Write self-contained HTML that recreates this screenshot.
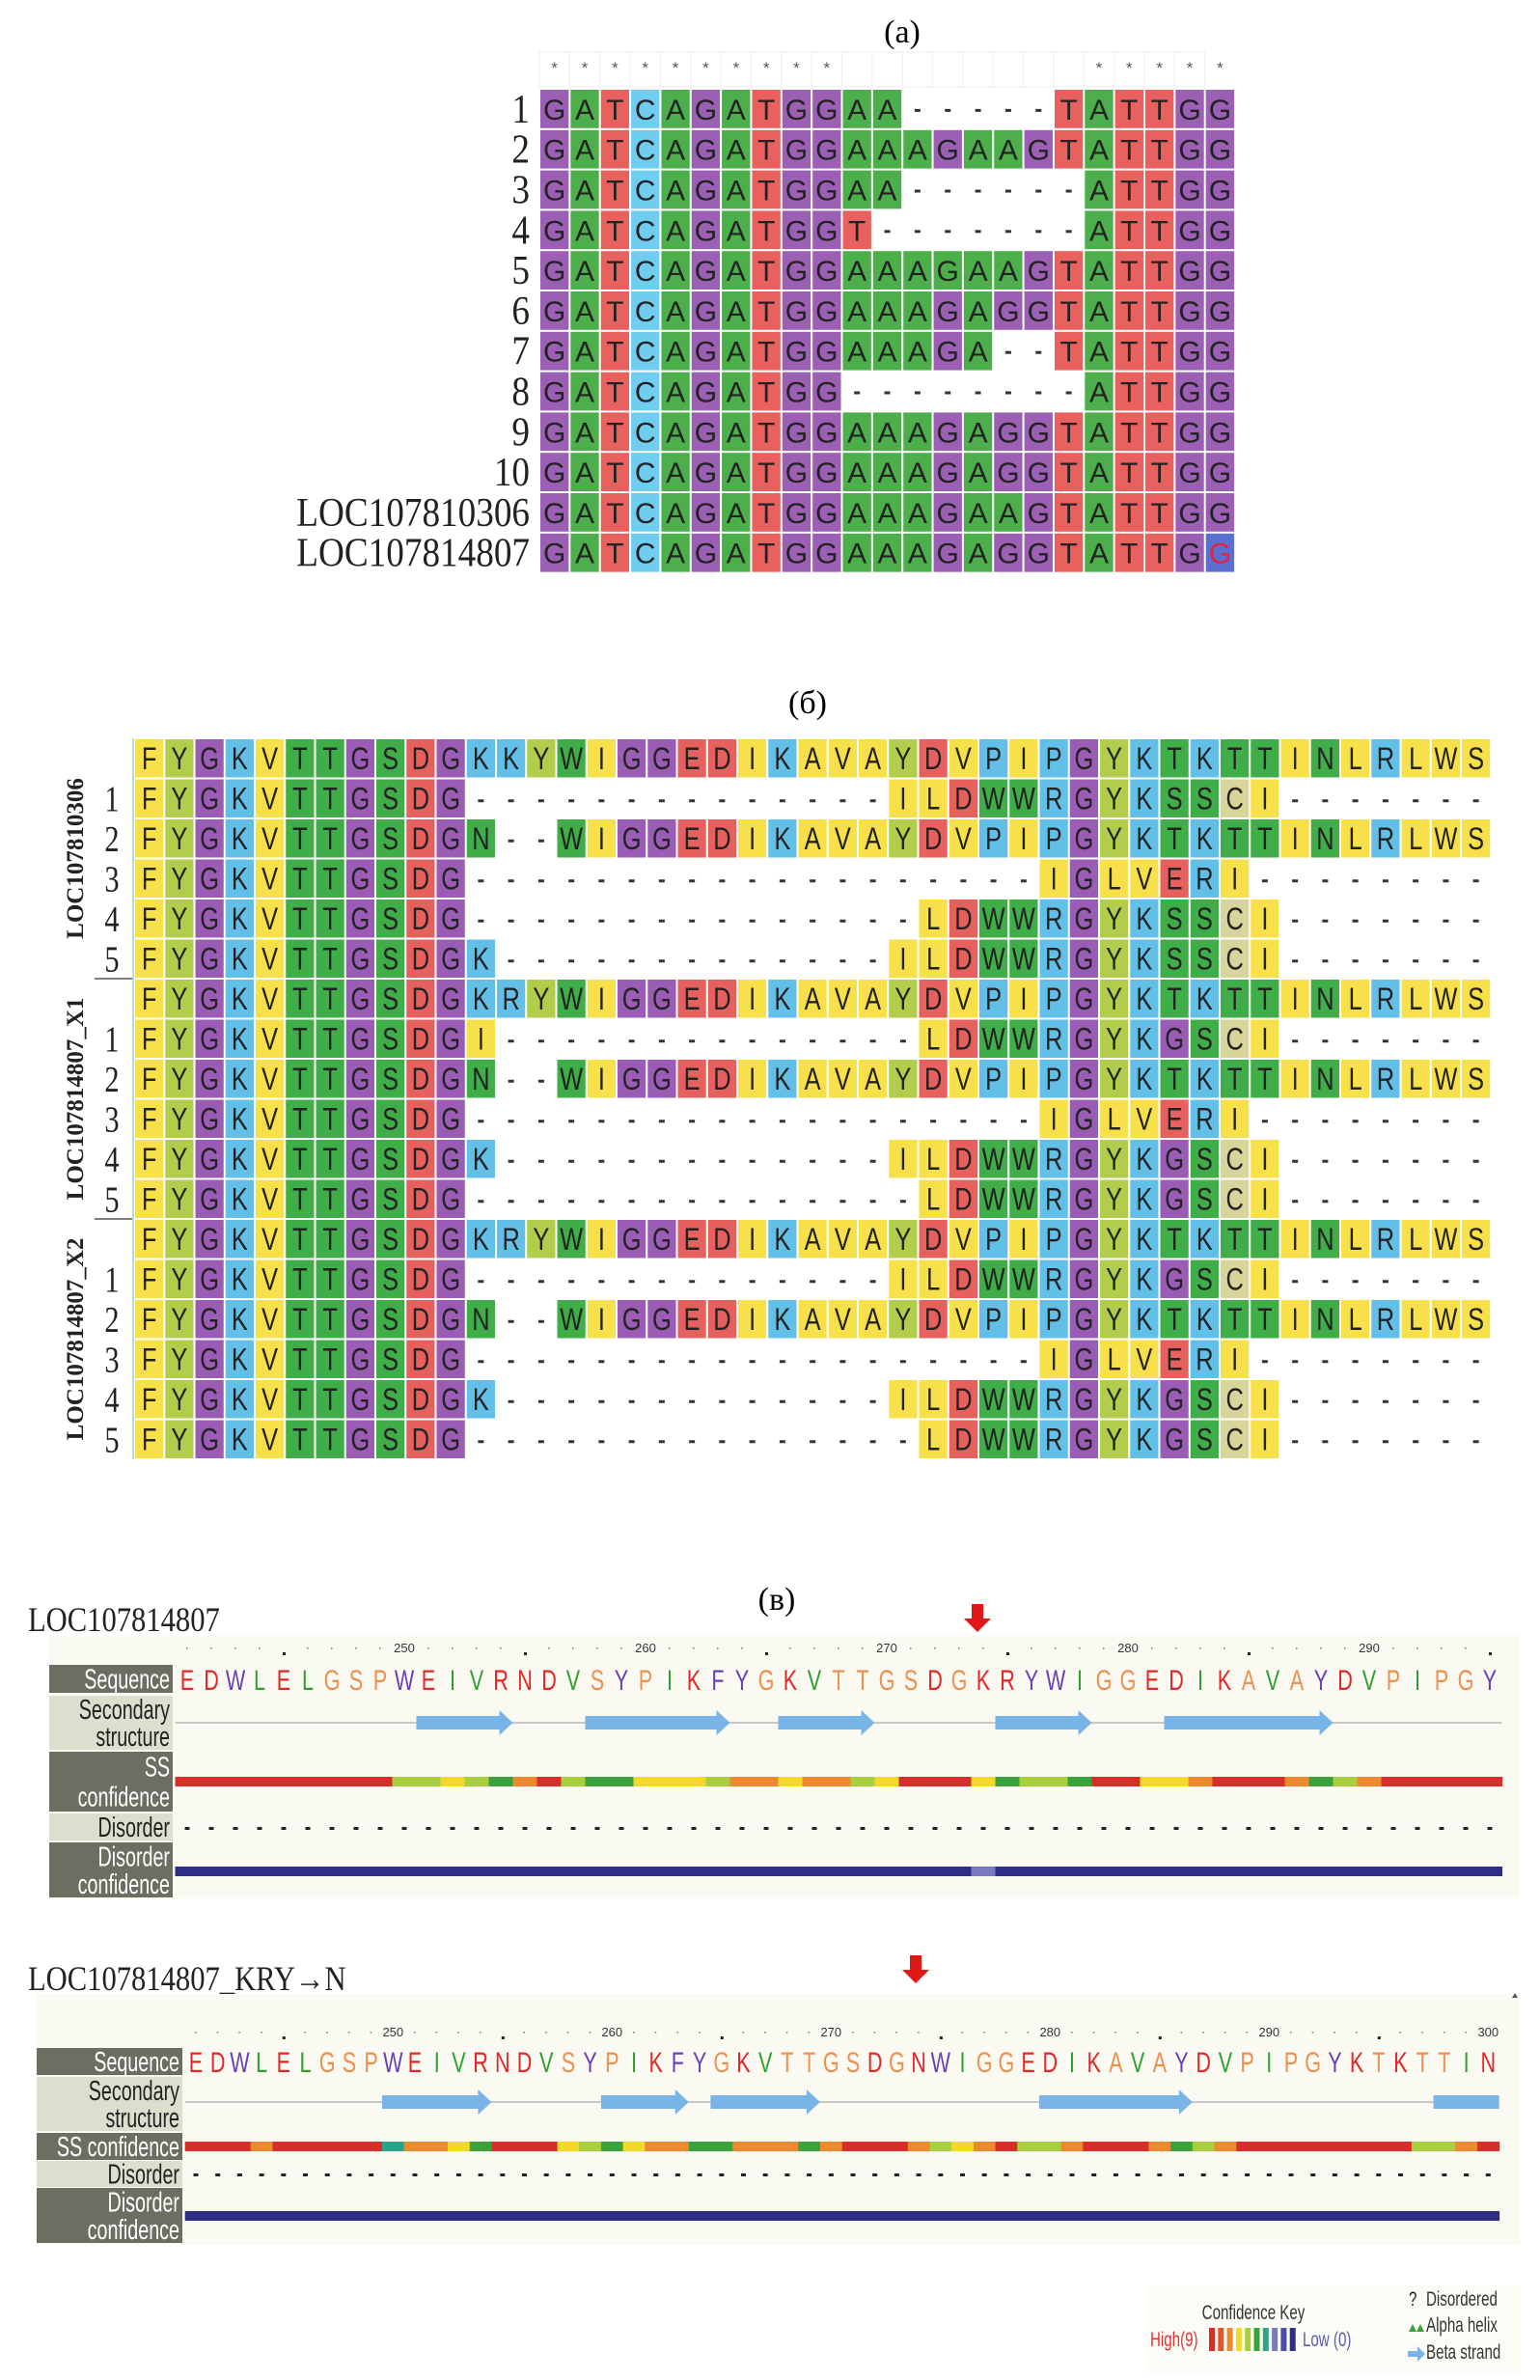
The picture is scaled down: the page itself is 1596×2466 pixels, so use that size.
<!DOCTYPE html>
<html><head><meta charset="utf-8">
<style>
html,body{margin:0;padding:0;background:#fff;}
body{width:1596px;height:2466px;position:relative;overflow:hidden;}
svg{position:absolute;left:0;top:0;}
</style></head>
<body>
<svg id="fig" width="1596" height="2466" xmlns="http://www.w3.org/2000/svg">
<text x="935" y="44" font-family="Liberation Serif, serif" font-size="34" text-anchor="middle">(a)</text>
<text x="837" y="739" font-family="Liberation Serif, serif" font-size="34" text-anchor="middle">(б)</text>
<text x="805" y="1668" font-family="Liberation Serif, serif" font-size="34" text-anchor="middle">(в)</text>
<g id="pa"></g>
<g id="pb"></g>
<g id="pc"></g>
</svg>
<script>
// ---------- Panel (a) data ----------
const dnaLabels = ["1","2","3","4","5","6","7","8","9","10","LOC107810306","LOC107814807"];
const dnaSeqs = [
"GATCAGATGGAA-----TATTGG",
"GATCAGATGGAAAGAAGTATTGG",
"GATCAGATGGAA------ATTGG",
"GATCAGATGGT-------ATTGG",
"GATCAGATGGAAAGAAGTATTGG",
"GATCAGATGGAAAGAGGTATTGG",
"GATCAGATGGAAAGA--TATTGG",
"GATCAGATGG--------ATTGG",
"GATCAGATGGAAAGAGGTATTGG",
"GATCAGATGGAAAGAGGTATTGG",
"GATCAGATGGAAAGAAGTATTGG",
"GATCAGATGGAAAGAGGTATTGG"];
const dnaStars = "**********--------*****";
// ---------- Panel (b) data ----------
const protLabels = ["","1","2","3","4","5","","1","2","3","4","5","","1","2","3","4","5"];
const protSeqs = [
"FYGKVTTGSDGKKYWIGGEDIKAVAYDVPIPGYKTKTTINLRLWS",
"FYGKVTTGSDG--------------ILDWWRGYKSSCI-------",
"FYGKVTTGSDGN--WIGGEDIKAVAYDVPIPGYKTKTTINLRLWS",
"FYGKVTTGSDG-------------------IGLVERI--------",
"FYGKVTTGSDG---------------LDWWRGYKSSCI-------",
"FYGKVTTGSDGK-------------ILDWWRGYKSSCI-------",
"FYGKVTTGSDGKRYWIGGEDIKAVAYDVPIPGYKTKTTINLRLWS",
"FYGKVTTGSDGI--------------LDWWRGYKGSCI-------",
"FYGKVTTGSDGN--WIGGEDIKAVAYDVPIPGYKTKTTINLRLWS",
"FYGKVTTGSDG-------------------IGLVERI--------",
"FYGKVTTGSDGK-------------ILDWWRGYKGSCI-------",
"FYGKVTTGSDG---------------LDWWRGYKGSCI-------",
"FYGKVTTGSDGKRYWIGGEDIKAVAYDVPIPGYKTKTTINLRLWS",
"FYGKVTTGSDG--------------ILDWWRGYKGSCI-------",
"FYGKVTTGSDGN--WIGGEDIKAVAYDVPIPGYKTKTTINLRLWS",
"FYGKVTTGSDG-------------------IGLVERI--------",
"FYGKVTTGSDGK-------------ILDWWRGYKGSCI-------",
"FYGKVTTGSDG---------------LDWWRGYKGSCI-------"];
const groupNames = ["LOC107810306","LOC107814807_X1","LOC107814807_X2"];
// ---------- Panel (c) data ----------
const seqTop = "EDWLELGSPWEIVRNDVSYPIKFYGKVTTGSDGKRYWIGGEDIKAVAYDVPIPGY";
const strandsTop = [[10,14],[17,23],[25,29],[34,38],[41,48]];
const confTop = [9,9,9,9,9,9,9,9,9,5,5,6,5,4,7,9,5,4,4,6,6,6,5,7,7,6,7,7,5,6,9,9,9,6,4,5,5,4,9,9,6,6,7,9,9,9,7,4,5,7,9,9,9,9,9];
const disConfTop = [0,0,0,0,0,0,0,0,0,0,0,0,0,0,0,0,0,0,0,0,0,0,0,0,0,0,0,0,0,0,0,0,0,2,0,0,0,0,0,0,0,0,0,0,0,0,0,0,0,0,0,0,0,0,0];
const seqBot = "EDWLELGSPWEIVRNDVSYPIKFYGKVTTGSDGNWIGGEDIKAVAYDVPIPGYKTKTTIN";
const strandsBot = [[9,14],[19,23],[24,29],[39,46],[57,60]];
const confBot = [9,9,9,7,9,9,9,9,9,3,7,7,6,4,9,9,9,6,5,4,6,7,7,4,4,7,7,7,4,7,9,9,9,7,5,6,7,9,5,5,7,9,9,9,7,4,5,7,9,9,9,9,9,9,9,9,5,5,7,9];

const NS="http://www.w3.org/2000/svg";
function mk(tag, attrs, parent, txt){const e=document.createElementNS(NS,tag);for(const k in attrs)e.setAttribute(k,attrs[k]);if(txt!==undefined)e.textContent=txt;parent.appendChild(e);return e;}

// ===== Panel (a) =====
(function(){
  const g=document.getElementById('pa');
  const x0=559, cw=31.35, y0=92, rh=41.8;
  const col={G:'#9b5fb3',A:'#4caf4c',T:'#e8615e',C:'#6fcdf0'};
  for(let c=0;c<dnaStars.length-1;c++){
    const r=mk('rect',{x:x0+c*cw,y:54,width:cw,height:36,fill:'#fff',stroke:'#eeeeee','stroke-width':1},g);
    
    
  }
  const starIdx=[0,1,2,3,4,5,6,7,8,9,18,19,20,21,22];
  starIdx.forEach(c=>{
    const t=mk('text',{x:x0+c*cw+cw/2,y:76,'font-size':17,'text-anchor':'middle','font-family':'Liberation Sans, sans-serif',fill:'#555'},g,'*');
    
    
  });
  dnaSeqs.forEach((s,r)=>{
    const y=y0+r*rh;
    const lab=mk('text',{x:0,y:0,'font-size':40,'text-anchor':'end','font-family':'Liberation Serif, serif',fill:'#222',transform:`translate(549,${y+rh/2+14}) scale(0.93,1.05)`},g,dnaLabels[r]);
    
    
    for(let c=0;c<s.length;c++){
      const ch=s[c];
      const cx=x0+c*cw;
      if(ch==='-'){
        const d=mk('rect',{x:cx+cw/2-3,y:y+rh/2,width:6,height:3,fill:'#333'},g);
        
        
        continue;
      }
      let fill=col[ch], tf='#222';
      if(r===4&&c===13) fill=col.A;
      if(r===dnaSeqs.length-1&&c===s.length-1){fill='#5a6fcf';tf='#e8203a';}
      const rc=mk('rect',{x:cx+1,y:y+1,width:cw-2,height:rh-2,fill:fill},g);
      
      
      const t=mk('text',{x:cx+cw/2,y:y+rh/2+11,'font-size':30,'text-anchor':'middle','font-family':'Liberation Sans, sans-serif',fill:tf},g,ch);
      
      
    }
  });
})();

// ===== Panel (b) =====
(function(){
  const g=document.getElementById('pb');
  const x0=139, cw=31.25, y0=765, rh=41.5;
  const Y='#f7e04a',LG='#b2cc4b',P='#9a5cb4',CY='#62c0e8',GR='#3fad48',R='#e6605e',KH='#d8d49a';
  const col={F:Y,I:Y,V:Y,A:Y,L:Y,M:Y,Y:LG,G:P,K:CY,R:CY,P:CY,H:CY,T:GR,S:GR,N:GR,W:GR,Q:GR,D:R,E:R,C:KH};
  protSeqs.forEach((s,r)=>{
    const y=y0+r*rh;
    if(protLabels[r]){
      const lab=mk('text',{x:0,y:0,'font-size':38,'text-anchor':'middle','font-family':'Liberation Serif, serif',fill:'#222',transform:`translate(116,${y+rh/2+13}) scale(0.8,1)`},g,protLabels[r]);
      
      
    }
    for(let c=0;c<s.length;c++){
      const ch=s[c], cx=x0+c*cw;
      if(ch==='-'){
        const d=mk('rect',{x:cx+cw/2-3,y:y+rh/2+1,width:6,height:3,fill:'#333'},g);
        
        
        continue;
      }
      let fill=col[ch];
      if(c>=43) fill=Y;
      const rc=mk('rect',{x:cx+1,y:y+1,width:cw-2,height:rh-2,fill:fill},g);
      
      
      const t=mk('text',{x:0,y:0,'font-size':31,'text-anchor':'middle','font-family':'Liberation Sans, sans-serif',fill:'#222',transform:`translate(${cx+cw/2},${y+rh/2+11}) scale(0.82,1.05)`},g,ch);
      
      
    }
  });
  groupNames.forEach((n,i)=>{
    const cy=y0+(i*6+3)*rh;
    const t=mk('text',{x:0,y:0,'font-size':25,'font-weight':'bold','text-anchor':'middle','font-family':'Liberation Serif, serif',fill:'#222',transform:`translate(86,${cy}) rotate(-90)`},g,n);
    
    
    if(i<2){
      const l=mk('line',{x1:98,x2:137,y1:y0+(i+1)*6*rh,y2:y0+(i+1)*6*rh,stroke:'#333','stroke-width':1.2},g);
      
      
    }
  });
  const vl=mk('line',{x1:138,x2:138,y1:y0,y2:y0+18*rh,stroke:'#9ccbe0','stroke-width':1.5},g);
  
  
})();

// ===== Panel (c) =====
const aaCol = {E:'#e02828',D:'#e02828',R:'#e02828',K:'#e02828',N:'#e02828',W:'#6a3fb5',Y:'#6a3fb5',F:'#6a3fb5',L:'#2ea02e',I:'#2ea02e',V:'#2ea02e',M:'#2ea02e',G:'#ec9050',S:'#ec9050',P:'#ec9050',T:'#ec9050',A:'#ec9050',C:'#ec9050'};
const confCol = {9:'#d62f2a',8:'#e2562b',7:'#ec8a30',6:'#f3d92a',5:'#a9cf3e',4:'#3ba23c',3:'#2aa58a',2:'#7a7ac0',1:'#4d4da8',0:'#2e2e86'};
function psipred(cfg){
  const g=mk('g',{},document.getElementById('pc'));
  
  
  const t=mk('text',{x:0,y:0,'font-size':36,'font-family':'Liberation Serif, serif',fill:'#222',transform:`translate(29,${cfg.titleY}) scale(0.85,1)`},g,cfg.title);
  
  
  const ax=cfg.arrowX, ay=cfg.arrowY;
  const ar=mk('path',{d:`M${ax-6} ${ay} h12 v15 h8 l-14 14 l-14 -14 h8 z`,fill:'#e01818'},g);
  
  
  const bg=mk('rect',{x:cfg.bx,y:cfg.by,width:1575-cfg.bx,height:cfg.bh,fill:'#fbfaf2'},g);
  
  
  cfg.rows.forEach(rw=>{
    const r=mk('rect',{x:cfg.bx,y:rw.y,width:cfg.lw,height:rw.h,fill:rw.dark?'#6d6d62':'#dedecf'},g);
    
    
    rw.lines.forEach((ln,i)=>{
      const tt=mk('text',{x:0,y:0,'font-size':29,'text-anchor':'end','font-family':'Liberation Sans, sans-serif',fill:rw.dark?'#fff':'#222',transform:`translate(${cfg.bx+cfg.lw-3},${rw.y+rw.h/rw.lines.length*(i+0.5)+10}) scale(0.68,1)`},g,ln);
      
      
    });
  });
  const xs=i=>cfg.x0+i*cfg.pitch;
  for(let i=0;i<cfg.seq.length;i++){
    const res=241+i;
    if(res%10===0){
      const n=mk('text',{x:xs(i),y:cfg.rulerY+5,'font-size':13,'text-anchor':'middle','font-family':'Liberation Sans, sans-serif',fill:'#333'},g,String(res));
      
      
    } else {
      const big=res%5===0;
      const d=mk('rect',{x:xs(i)-1,y:cfg.rulerY+(big?5:0),width:big?3:1.5,height:big?3:1.5,fill:big?'#222':'#777'},g);
      
      
    }
    const ch=cfg.seq[i];
    const st=mk('text',{x:0,y:0,'font-size':30,'text-anchor':'middle','font-family':'Liberation Sans, sans-serif',fill:aaCol[ch],transform:`translate(${xs(i)},${cfg.seqY}) scale(0.72,1)`},g,ch);
    
    
    const cc=mk('rect',{x:xs(i)-cfg.pitch/2,y:cfg.confY,width:cfg.pitch+0.5,height:cfg.confH,fill:confCol[cfg.conf[i]]},g);
    
    
    const dd=mk('rect',{x:xs(i)-2.5,y:cfg.disY,width:5,height:3,fill:'#222'},g);
    
    
    const dc=mk('rect',{x:xs(i)-cfg.pitch/2,y:cfg.dconfY,width:cfg.pitch+0.5,height:cfg.dconfH,fill:confCol[cfg.dconf?cfg.dconf[i]:0]},g);
    
    
  }
  const cl=mk('line',{x1:xs(0)-cfg.pitch/2,x2:xs(cfg.seq.length-1)+cfg.pitch/2,y1:cfg.ssY,y2:cfg.ssY,stroke:'#b8b8b8','stroke-width':1.5},g);
  
  
  cfg.strands.forEach(s=>{
    const a=xs(s[0])-cfg.pitch/2, b=xs(s[1]-1)+cfg.pitch/2;
    const head=s[1]>=cfg.seq.length?0:14;
    const p=mk('path',{d:`M${a} ${cfg.ssY-7} H${b-head} V${cfg.ssY-13} L${b} ${cfg.ssY} L${b-head} ${cfg.ssY+13} V${cfg.ssY+7} H${a} Z`,fill:'#78b4e8'},g);
    
    
  });
}
psipred({name:'psipred-wildtype',title:'LOC107814807',titleY:1690,arrowX:1013,arrowY:1662,bx:51,by:1695,bh:272,lw:128,
  rows:[{y:1725,h:29,dark:1,lines:['Sequence']},{y:1757,h:56,dark:0,lines:['Secondary','structure']},{y:1815,h:62,dark:1,lines:['SS','confidence']},{y:1879,h:28,dark:0,lines:['Disorder']},{y:1909,h:57,dark:1,lines:['Disorder','confidence']}],
  x0:194,pitch:25,seq:seqTop,rulerY:1707,seqY:1751,ssY:1785,strands:strandsTop,conf:confTop,confY:1841,confH:10,disY:1893,dconf:disConfTop,dconfY:1934,dconfH:10});
psipred({name:'psipred-mutant',title:'LOC107814807_KRY→N',titleY:2062,arrowX:949,arrowY:2026,bx:38,by:2066,bh:260,lw:151,
  rows:[{y:2122,h:28,dark:1,lines:['Sequence']},{y:2152,h:56,dark:0,lines:['Secondary','structure']},{y:2210,h:28,dark:1,lines:['SS confidence']},{y:2239,h:27,dark:0,lines:['Disorder']},{y:2267,h:57,dark:1,lines:['Disorder','confidence']}],
  x0:203,pitch:22.7,seq:seqBot,rulerY:2105,seqY:2147,ssY:2178,strands:strandsBot,conf:confBot,confY:2219,confH:10,disY:2252,dconfY:2291,dconfH:10});

// ===== Confidence key =====
(function(){
  const g=mk('g',{},document.getElementById('pc'));
  
  
  mk('rect',{x:1187,y:2368,width:388,height:90,fill:'#fcfcf6'},g);
  const f='Liberation Sans, sans-serif';
  const items=[['Confidence Key',1299,2403,'#333','middle'],['High(9)',1192,2431,'#e03030','start'],['Low (0)',1350,2431,'#5a5ab0','start'],['? ',1460,2389,'#222','start'],['Disordered',1478,2389,'#333','start'],['Alpha helix',1478,2416,'#333','start'],['Beta strand',1478,2444,'#333','start']];
  items.forEach(it=>{
    const t=mk('text',{x:0,y:0,'font-size':21,'text-anchor':it[4],'font-family':f,fill:it[3],transform:`translate(${it[1]},${it[2]}) scale(0.72,1)`},g,it[0]);
    
    
  });
  const keyLevels=[9,8,7,6,5,4,3,2,1,0];
  keyLevels.forEach((v,i)=>{
    const r=mk('rect',{x:1253+i*9.3,y:2412,width:6,height:24,fill:confCol[v]},g);
    
    
  });
  const h=mk('path',{d:'M1460 2416 l4 -8 l4 8 l4 -8 l4 8 z',fill:'#3aa03a'},g);
  
  
  const b=mk('path',{d:'M1459 2436 h10 v-5 l8 8 l-8 8 v-5 h-10 z',fill:'#78b4e8'},g);
  
  
  const tri=mk('path',{d:'M1567 2070 l3 -5 l3 5 z',fill:'#555'},g);
  
  
})();
</script>
</body></html>
